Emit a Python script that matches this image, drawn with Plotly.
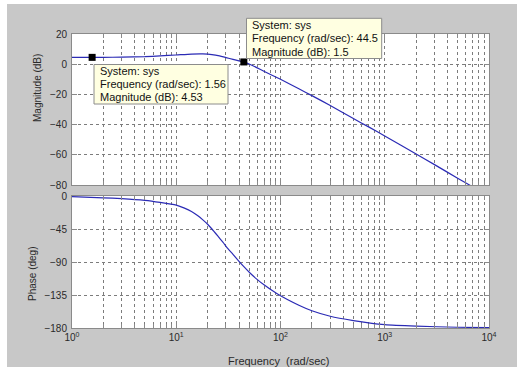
import plotly.graph_objects as go

# ---------------- data ----------------
freq_mag = [1, 2, 3, 5, 7, 10, 14, 18, 22, 26, 30, 35, 44.5, 55, 70, 100, 150, 200,
            300, 500, 700, 1000, 2000, 3000, 5000, 7000, 10000]
mag_db = [4.5, 4.55, 4.7, 5.0, 5.5, 6.1, 6.7, 6.8, 6.4, 5.5, 4.4, 3.2, 1.5, -1.2, -4.8,
          -10.0, -16.3, -20.8, -27.3, -36.0, -41.5, -47.5, -59.5, -66.5, -75.5, -81.3, -87.5]

freq_ph = [1, 2, 3, 5, 7, 10, 12, 14, 16, 18, 20, 22, 25, 28, 31.6, 35, 40, 45, 51, 60, 70, 92,
           150, 200, 300, 500, 700, 1000, 2000, 5000, 10000]
phase_deg = [-0.9, -2.5, -3.6, -6, -8.8, -12.5, -16.5, -21, -26.5, -32.5, -38.5, -45, -54.5, -63,
             -72.5, -79.5, -89, -97, -105, -114, -121.5, -133, -149, -156.5, -164, -170, -173,
             -175.5, -177.5, -179, -179.5]

tip_freq = [1.56, 44.5]
tip_mag = [4.53, 1.5]

x_tickvals = [1, 10, 100, 1000, 10000]
x_ticktext = ["10<sup>0</sup>", "10<sup>1</sup>", "10<sup>2</sup>", "10<sup>3</sup>", "10<sup>4</sup>"]
mag_ticks = [-80, -60, -40, -20, 0, 20]
phase_ticks = [-180, -135, -90, -45, 0]

# ---------------- geometry helpers (pixel -> paper) ----------------
W, H = 517, 367
L, R, T, B = 72, 28, 34, 39
PW, PH = W - L - R, H - T - B


def px(x):
    return (x - L) / PW


def py(y):
    return (H - B - y) / PH


FONT = "Liberation Sans, Arial, Helvetica, sans-serif"
LINE_COLOR = "#2b2bb5"
GRID = "#7c7c7c"
AXIS = "#8a8a8a"
TXT = "#2a2a2a"

minor_vals = [m * 10 ** e for e in range(4) for m in range(2, 10)]

fig = go.Figure()
fig.add_trace(go.Scatter(x=freq_mag, y=mag_db, mode="lines", line=dict(color=LINE_COLOR, width=1.2, shape="spline", smoothing=0.6),
                         xaxis="x", yaxis="y", showlegend=False, hoverinfo="skip"))
fig.add_trace(go.Scatter(x=freq_ph, y=phase_deg, mode="lines", line=dict(color=LINE_COLOR, width=1.2, shape="spline", smoothing=0.5),
                         xaxis="x2", yaxis="y2", showlegend=False, hoverinfo="skip"))
fig.add_trace(go.Scatter(x=tip_freq, y=tip_mag, mode="markers",
                         marker=dict(symbol="square", size=7, color="black"),
                         xaxis="x", yaxis="y", showlegend=False, hoverinfo="skip", cliponaxis=False))

top_lo = py(185)
bot_hi = py(196)

common_x = dict(type="log", range=[0, 4], showline=True, linecolor=AXIS, linewidth=1, mirror="ticks",
                ticks="inside", ticklen=7, tickcolor=AXIS, tickmode="array", tickvals=x_tickvals,
                showgrid=True, gridcolor=GRID, griddash="3px,3px", gridwidth=1, zeroline=False,
                minor=dict(tickmode="array", tickvals=minor_vals, ticks="inside", ticklen=4, tickcolor=AXIS,
                           showgrid=True, gridcolor=GRID, griddash="3px,3px", gridwidth=1),
                tickfont=dict(family=FONT, size=10, color=TXT))

common_y = dict(showline=True, linecolor=AXIS, linewidth=1, mirror="ticks", ticks="inside", ticklen=5,
                tickcolor=AXIS, showgrid=True, gridcolor=GRID, griddash="3px,3px", gridwidth=1,
                zeroline=False, tickfont=dict(family=FONT, size=10, color=TXT), ticklabelstandoff=2)

fig.update_layout(
    width=W, height=H,
    margin=dict(l=L, r=R, t=T, b=B, pad=0),
    paper_bgcolor="#c8c8c8", plot_bgcolor="white",
    xaxis=dict(domain=[0, 1], anchor="y", showticklabels=False, **common_x),
    yaxis=dict(domain=[top_lo, 1], anchor="x", range=[-80, 20], tickmode="array", tickvals=mag_ticks, **common_y),
    xaxis2=dict(domain=[0, 1], anchor="y2", ticktext=x_ticktext, **common_x),
    yaxis2=dict(domain=[0, bot_hi], anchor="x2", range=[-180, 0], tickmode="array", tickvals=phase_ticks, **common_y),
    showlegend=False,
)

shapes = []
# white screenshot border strips
shapes.append(dict(type="rect", xref="paper", yref="paper", x0=px(0), x1=px(W), y0=py(4), y1=py(0),
                   fillcolor="white", line=dict(width=0), layer="above"))
shapes.append(dict(type="rect", xref="paper", yref="paper", x0=px(0), x1=px(7), y0=py(H), y1=py(0),
                   fillcolor="white", line=dict(width=0), layer="above"))
# datatip boxes
boxes = [(94, 64.5, 228, 104), (246.5, 18.3, 381.7, 58.5)]
for (x0, y0, x1, y1) in boxes:
    shapes.append(dict(type="rect", xref="paper", yref="paper", x0=px(x0), x1=px(x1), y0=py(y1), y1=py(y0),
                       fillcolor="#ffffe1", line=dict(color="#8c8c8c", width=1), layer="above"))
fig.update_layout(shapes=shapes)

ann = []
tip_lines = [(98.5, [71, 84, 97]), (251, [25.5, 38.5, 51.5])]
for i, (tx, ys) in enumerate(tip_lines):
    texts = ["System: sys",
             f"Frequency (rad/sec): {tip_freq[i]:g}",
             f"Magnitude (dB): {tip_mag[i]:g}"]
    for t, yy in zip(texts, ys):
        ann.append(dict(text=t, xref="paper", yref="paper", x=px(tx), y=py(yy), xanchor="left", yanchor="middle",
                        showarrow=False, font=dict(family=FONT, size=11, color="#111"), borderpad=0))

ann.append(dict(text="Magnitude (dB)", xref="paper", yref="paper", x=px(37), y=py(88), textangle=-90,
                xanchor="center", yanchor="middle", showarrow=False, font=dict(family=FONT, size=10, color=TXT)))
ann.append(dict(text="Phase (deg)", xref="paper", yref="paper", x=px(32), y=py(274), textangle=-90,
                xanchor="center", yanchor="middle", showarrow=False, font=dict(family=FONT, size=10, color=TXT)))
ann.append(dict(text="Frequency  (rad/sec)", xref="paper", yref="paper", x=px(278), y=py(361), xanchor="center",
                yanchor="middle", showarrow=False, font=dict(family=FONT, size=11, color=TXT)))
fig.update_layout(annotations=ann)

fig.write_html("out.html", config={"displayModeBar": False},
               post_script="document.body.style.margin='0px';document.body.style.overflow='hidden';")
